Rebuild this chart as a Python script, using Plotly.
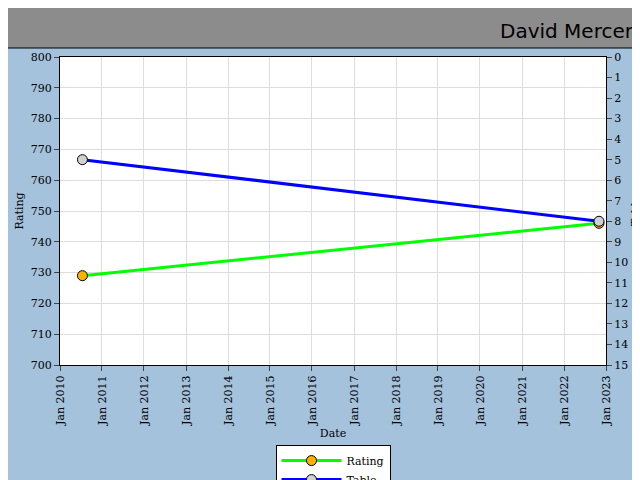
import plotly.graph_objects as go

dates = ["2010-07-15", "2022-11-01"]
rating = [729, 746]
table = [5, 8]
tick_vals = [f"{y}-01-01" for y in range(2010, 2024)]
tick_text = [f"Jan {y}" for y in range(2010, 2024)]

fig = go.Figure()
fig.add_trace(go.Scatter(x=dates, y=rating, name="Rating", mode="lines+markers",
    line=dict(color="#00ff00", width=3),
    marker=dict(size=10, color="#ffb000", line=dict(color="black", width=1))))
fig.add_trace(go.Scatter(x=dates, y=table, name="Table", mode="lines+markers", yaxis="y2",
    line=dict(color="#0000ff", width=3),
    marker=dict(size=10, color="#d0d0d0", line=dict(color="black", width=1))))

font = dict(family="DejaVu Serif", size=11, color="black")
fig.update_layout(
    width=640, height=480, paper_bgcolor="#a4c2dc", plot_bgcolor="white",
    margin=dict(l=52, r=42, t=49, b=123, autoexpand=False), font=font, showlegend=True,
    legend=dict(x=0.5, xanchor="center", y=-0.26, yanchor="top", orientation="v",
                bgcolor="white", bordercolor="black", borderwidth=1, font=font,
                tracegroupgap=0, itemwidth=60),
    xaxis=dict(range=["2010-01-01", "2023-01-01"], tickvals=tick_vals, ticktext=tick_text,
               tickangle=-90, showgrid=True, gridcolor="#dddddd", linecolor="black", mirror=True,
               ticks="outside", automargin=False, title=dict(text="Date", font=font, standoff=4)),
    yaxis=dict(range=[700, 800], dtick=10, showgrid=True, gridcolor="#dddddd", linecolor="black",
               ticks="outside", automargin=False, title=dict(text="Rating", font=font, standoff=4)),
    yaxis2=dict(range=[15, 0], dtick=1, overlaying="y", side="right", showgrid=False,
                linecolor="black", ticks="outside", automargin=False,
                title=dict(text="Table", font=font, standoff=4)),
    shapes=[dict(type="rect", xref="paper", yref="paper", x0=-0.2, x1=1.2, y0=1.0 + 9/308, y1=1.5,
                 fillcolor="#8c8c8c", line=dict(color="black", width=1), layer="below")],
    annotations=[dict(text="David Mercer", xref="paper", yref="paper", x=1.055, y=1.0 + 26/308,
                      xanchor="right", yanchor="middle", showarrow=False,
                      font=dict(family="DejaVu Sans", size=20, color="black"))],
)
fig.write_html("out.html")
